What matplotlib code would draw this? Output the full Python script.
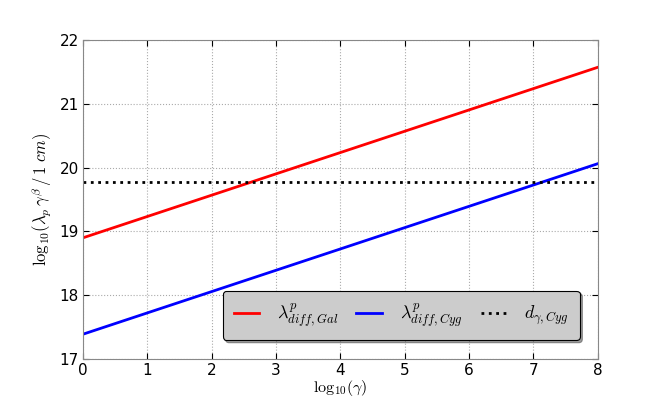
import numpy as np
import matplotlib
matplotlib.use('Agg')
import matplotlib.pyplot as plt

# endpoints (straight lines in log-log)
log_gamma = [0, 8]
lam_gal = [18.90, 21.57]
lam_cyg = [17.39, 20.06]
d_cyg = 19.77

labels = [r'$\lambda^{p}_{diff,Gal}$', r'$\lambda^{p}_{diff,Cyg}$', r'$d_{\gamma,Cyg}$']

plt.rcParams['mathtext.fontset'] = 'cm'
plt.rcParams['font.family'] = 'DejaVu Sans'

fig = plt.figure(figsize=(6.64, 3.99), dpi=100)
ax = fig.add_axes([0.125, 0.1, 0.775, 0.8])

ax.plot(log_gamma, lam_gal, color='red', lw=2, label=labels[0])
ax.plot(log_gamma, lam_cyg, color='blue', lw=2, label=labels[1])
ax.plot(log_gamma, [d_cyg, d_cyg], color='black', lw=2, ls=':', label=labels[2])

ax.set_xlim(0, 8)
ax.set_ylim(17, 22)
ax.set_xticks(range(0, 9))
ax.set_yticks(range(17, 23))
ax.tick_params(direction='in', labelsize=11, colors='black', length=4, pad=3)
ax.tick_params(top=True, right=True)
for s in ax.spines.values():
    s.set_color('#888888')
ax.grid(True, color='#aaaaaa', ls=':', lw=0.8)

ax.set_xlabel(r'$\mathrm{log}_{10}(\gamma)$', fontsize=11.5, labelpad=0)
ax.set_ylabel(r'$\mathrm{log}_{10}(\lambda_p\,\gamma^{\beta}\,/\,1\ cm)$', fontsize=12, labelpad=4)

leg = ax.legend(loc='lower right', ncol=3, fontsize=13, fancybox=True, shadow=True,
                bbox_to_anchor=(0.965, 0.06), borderaxespad=0,
                facecolor='#cccccc', edgecolor='black',
                framealpha=1, handlelength=1.4, columnspacing=1.0, handletextpad=1.0,
                borderpad=0.6)
leg.get_frame().set_linewidth(0.8)

fig.savefig('out.png', dpi=100)
